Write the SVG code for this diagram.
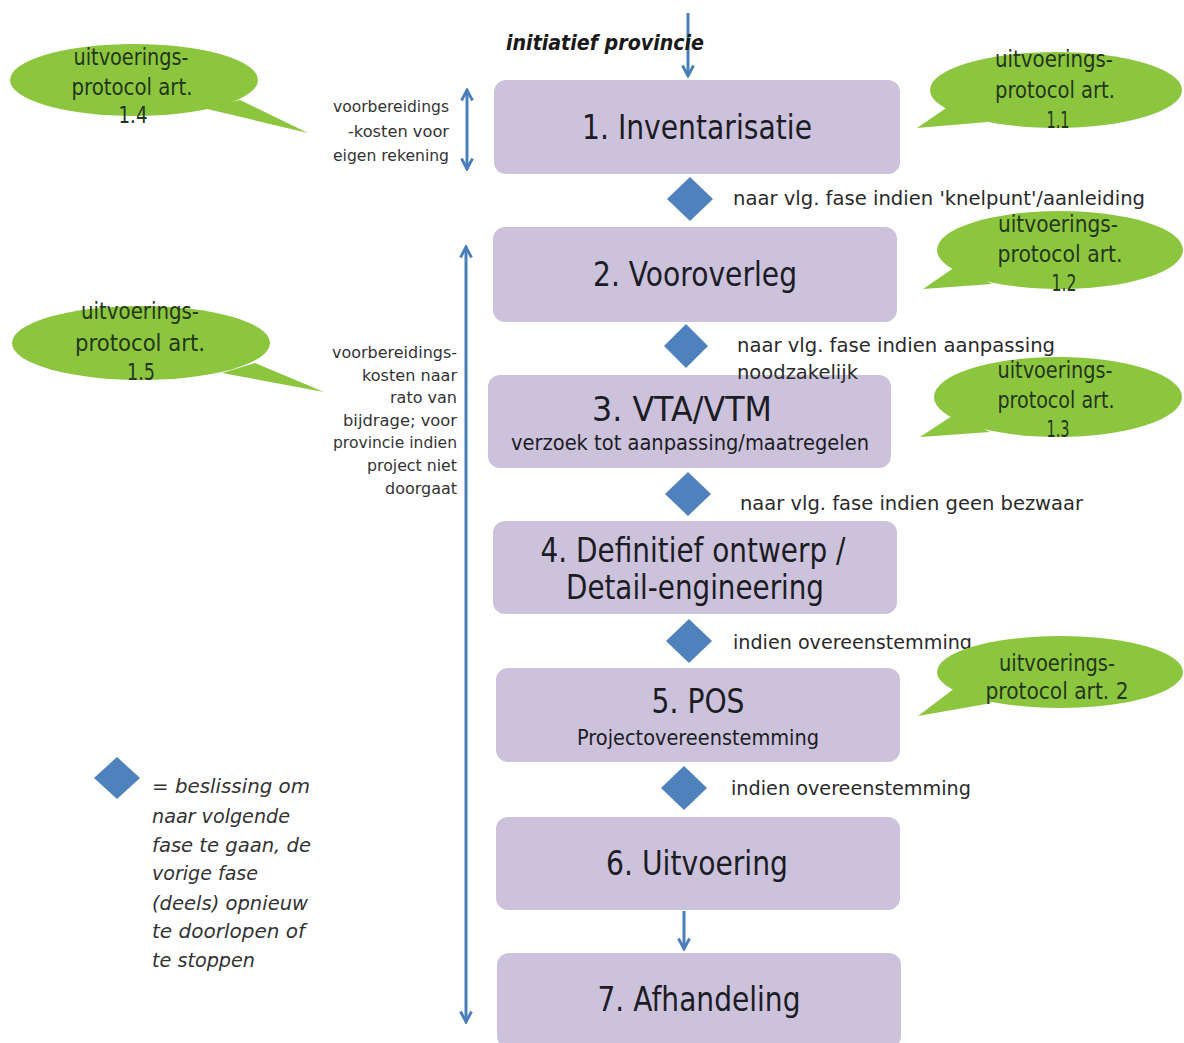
<svg xmlns="http://www.w3.org/2000/svg" width="1184" height="1043" viewBox="0 0 1184 1043">
<defs>
<style>
text{font-family:"DejaVu Sans","Liberation Sans",sans-serif;}
.box{fill:#ccc2dc;}
.t1{font-size:33px;fill:#1c1c24;text-anchor:middle;}
.t2{font-size:21px;fill:#1c1c24;text-anchor:middle;}
.lbl{font-size:20px;fill:#2a2a2a;}
.side{font-size:16px;fill:#333333;text-anchor:end;}
.leg{font-size:20px;fill:#333333;font-style:italic;}
.co{fill:#8cc63f;}
.ct{font-size:23px;fill:#24361a;text-anchor:middle;}
.dia{fill:#4f81bd;}
.ln{stroke:#4a7ebb;stroke-width:3;fill:none;}
</style>
<marker id="ah" viewBox="0 0 14 14" refX="12" refY="7" markerWidth="14" markerHeight="14" markerUnits="userSpaceOnUse" orient="auto-start-reverse">
<path d="M1.5,1.5 L12,7 L1.5,12.5" fill="none" stroke="#4a7ebb" stroke-width="2.8"/>
</marker>
</defs>
<rect width="1184" height="1043" fill="#ffffff"/>

<g id="connectors">
<line class="ln" x1="688" y1="13" x2="688" y2="76" marker-end="url(#ah)"/>
<line class="ln" x1="684" y1="911" x2="684" y2="949" marker-end="url(#ah)"/>
<line class="ln" x1="467" y1="90" x2="467" y2="169" marker-start="url(#ah)" marker-end="url(#ah)"/>
<line class="ln" x1="466" y1="247" x2="466" y2="1022" marker-start="url(#ah)" marker-end="url(#ah)"/>
</g>

<g id="start-label">
<text x="506" y="50" font-size="21" font-weight="bold" font-style="italic" fill="#1a1a1a" textLength="198" lengthAdjust="spacingAndGlyphs">initiatief  provincie</text>
</g>

<g id="node1"><rect class="box" x="494" y="80" width="406" height="94" rx="12"/>
<text class="t1" x="697" y="139" textLength="230" lengthAdjust="spacingAndGlyphs">1. Inventarisatie</text></g>
<g id="node2"><rect class="box" x="493" y="227" width="404" height="95" rx="12"/>
<text class="t1" x="695" y="286" textLength="204" lengthAdjust="spacingAndGlyphs">2. Vooroverleg</text></g>
<g id="node3"><rect class="box" x="488" y="375" width="403" height="93" rx="12"/>
<text class="t1" x="682" y="421" textLength="180" lengthAdjust="spacingAndGlyphs">3. VTA/VTM</text>
<text class="t2" x="690" y="450" textLength="358" lengthAdjust="spacingAndGlyphs">verzoek tot aanpassing/maatregelen</text></g>
<g id="node4"><rect class="box" x="493" y="521" width="404" height="93" rx="12"/>
<text class="t1" x="693" y="562" textLength="305" lengthAdjust="spacingAndGlyphs">4. Definitief ontwerp /</text>
<text class="t1" x="695" y="599" textLength="258" lengthAdjust="spacingAndGlyphs">Detail-engineering</text></g>
<g id="node5"><rect class="box" x="496" y="668" width="404" height="94" rx="12"/>
<text class="t1" x="698" y="713" textLength="93" lengthAdjust="spacingAndGlyphs">5. POS</text>
<text class="t2" x="698" y="745" textLength="242" lengthAdjust="spacingAndGlyphs">Projectovereenstemming</text></g>
<g id="node6"><rect class="box" x="496" y="817" width="404" height="93" rx="12"/>
<text class="t1" x="697" y="875" textLength="182" lengthAdjust="spacingAndGlyphs">6. Uitvoering</text></g>
<g id="node7"><rect class="box" x="497" y="953" width="404" height="95" rx="12"/>
<text class="t1" x="699" y="1011" textLength="203" lengthAdjust="spacingAndGlyphs">7. Afhandeling</text></g>

<g id="decision1"><polygon class="dia" points="690,177 713,199 690,221 667,199"/>
<text class="lbl" x="733" y="205" textLength="412" lengthAdjust="spacingAndGlyphs">naar vlg. fase indien 'knelpunt'/aanleiding</text></g>
<g id="decision2"><polygon class="dia" points="686,324 708,346 686,368 664,346"/>
<text class="lbl" x="737" y="352" textLength="318" lengthAdjust="spacingAndGlyphs">naar vlg. fase indien aanpassing</text>
<text class="lbl" x="737" y="379" textLength="121" lengthAdjust="spacingAndGlyphs">noodzakelijk</text></g>
<g id="decision3"><polygon class="dia" points="688,472 711,494 688,516 665,494"/>
<text class="lbl" x="740" y="510" textLength="343" lengthAdjust="spacingAndGlyphs">naar vlg. fase indien geen bezwaar</text></g>
<g id="decision4"><polygon class="dia" points="689,619 712,641 689,663 666,641"/>
<text class="lbl" x="733" y="649" textLength="239" lengthAdjust="spacingAndGlyphs">indien  overeenstemming</text></g>
<g id="decision5"><polygon class="dia" points="684,766 707,788 684,810 661,788"/>
<text class="lbl" x="731" y="795" textLength="240" lengthAdjust="spacingAndGlyphs">indien  overeenstemming</text></g>

<g id="note-top-left">
<text class="side" x="449" y="112" textLength="116" lengthAdjust="spacingAndGlyphs">voorbereidings</text>
<text class="side" x="449" y="137" textLength="101" lengthAdjust="spacingAndGlyphs">-kosten voor</text>
<text class="side" x="449" y="161" textLength="116" lengthAdjust="spacingAndGlyphs">eigen rekening</text>
</g>
<g id="note-left">
<text class="side" x="457" y="358" textLength="125" lengthAdjust="spacingAndGlyphs">voorbereidings-</text>
<text class="side" x="457" y="381" textLength="95" lengthAdjust="spacingAndGlyphs">kosten naar</text>
<text class="side" x="457" y="403" textLength="67" lengthAdjust="spacingAndGlyphs">rato van</text>
<text class="side" x="457" y="426" textLength="114" lengthAdjust="spacingAndGlyphs">bijdrage; voor</text>
<text class="side" x="457" y="448" textLength="124" lengthAdjust="spacingAndGlyphs">provincie indien</text>
<text class="side" x="457" y="471" textLength="90" lengthAdjust="spacingAndGlyphs">project niet</text>
<text class="side" x="457" y="494" textLength="72" lengthAdjust="spacingAndGlyphs">doorgaat</text>
</g>

<g id="callout-1-4"><ellipse class="co" cx="134" cy="80" rx="124" ry="36"/>
<polygon class="co" points="203,108 240,100 308,133"/>
<text class="ct" x="131" y="65" textLength="115" lengthAdjust="spacingAndGlyphs">uitvoerings-</text>
<text class="ct" x="132" y="95" textLength="121" lengthAdjust="spacingAndGlyphs">protocol art.</text>
<text class="ct" x="133" y="123" textLength="29" lengthAdjust="spacingAndGlyphs">1.4</text></g>
<g id="callout-1-5"><ellipse class="co" cx="141" cy="343" rx="129" ry="37"/>
<polygon class="co" points="222,373 255,363 324,392"/>
<text class="ct" x="140" y="319" textLength="118" lengthAdjust="spacingAndGlyphs">uitvoerings-</text>
<text class="ct" x="140" y="351" textLength="130" lengthAdjust="spacingAndGlyphs">protocol art.</text>
<text class="ct" x="141" y="380" textLength="28" lengthAdjust="spacingAndGlyphs">1.5</text></g>
<g id="callout-1-1"><ellipse class="co" cx="1056" cy="90" rx="126" ry="38"/>
<polygon class="co" points="952,104 988,122 917,128"/>
<text class="ct" x="1054" y="67" textLength="118" lengthAdjust="spacingAndGlyphs">uitvoerings-</text>
<text class="ct" x="1055" y="98" textLength="120" lengthAdjust="spacingAndGlyphs">protocol art.</text>
<text class="ct" x="1058" y="128" textLength="23" lengthAdjust="spacingAndGlyphs">1.1</text></g>
<g id="callout-1-2"><ellipse class="co" cx="1060" cy="250" rx="123" ry="39"/>
<polygon class="co" points="958,265 992,284 923,289"/>
<text class="ct" x="1058" y="232" textLength="120" lengthAdjust="spacingAndGlyphs">uitvoerings-</text>
<text class="ct" x="1060" y="262" textLength="125" lengthAdjust="spacingAndGlyphs">protocol art.</text>
<text class="ct" x="1064" y="291" textLength="25" lengthAdjust="spacingAndGlyphs">1.2</text></g>
<g id="callout-1-3"><ellipse class="co" cx="1058" cy="397" rx="124" ry="40"/>
<polygon class="co" points="955,414 990,432 920,437"/>
<text class="ct" x="1055" y="378" textLength="115" lengthAdjust="spacingAndGlyphs">uitvoerings-</text>
<text class="ct" x="1056" y="408" textLength="117" lengthAdjust="spacingAndGlyphs">protocol art.</text>
<text class="ct" x="1058" y="437" textLength="23" lengthAdjust="spacingAndGlyphs">1.3</text></g>
<g id="callout-2"><ellipse class="co" cx="1060" cy="672" rx="123" ry="36"/>
<polygon class="co" points="955,688 992,703 918,716"/>
<text class="ct" x="1057" y="671" textLength="116" lengthAdjust="spacingAndGlyphs">uitvoerings-</text>
<text class="ct" x="1057" y="699" textLength="143" lengthAdjust="spacingAndGlyphs">protocol art. 2</text></g>

<g id="legend">
<polygon class="dia" points="117,757 140,778 117,799 94,778"/>
<text class="leg" x="152" y="793" textLength="158" lengthAdjust="spacingAndGlyphs">= beslissing om</text>
<text class="leg" x="152" y="823" textLength="138" lengthAdjust="spacingAndGlyphs">naar volgende</text>
<text class="leg" x="152" y="852" textLength="159" lengthAdjust="spacingAndGlyphs">fase te gaan, de</text>
<text class="leg" x="152" y="880" textLength="106" lengthAdjust="spacingAndGlyphs">vorige fase</text>
<text class="leg" x="152" y="910" textLength="156" lengthAdjust="spacingAndGlyphs">(deels) opnieuw</text>
<text class="leg" x="152" y="938" textLength="153" lengthAdjust="spacingAndGlyphs">te doorlopen of</text>
<text class="leg" x="152" y="967" textLength="103" lengthAdjust="spacingAndGlyphs">te stoppen</text>
</g>
</svg>
